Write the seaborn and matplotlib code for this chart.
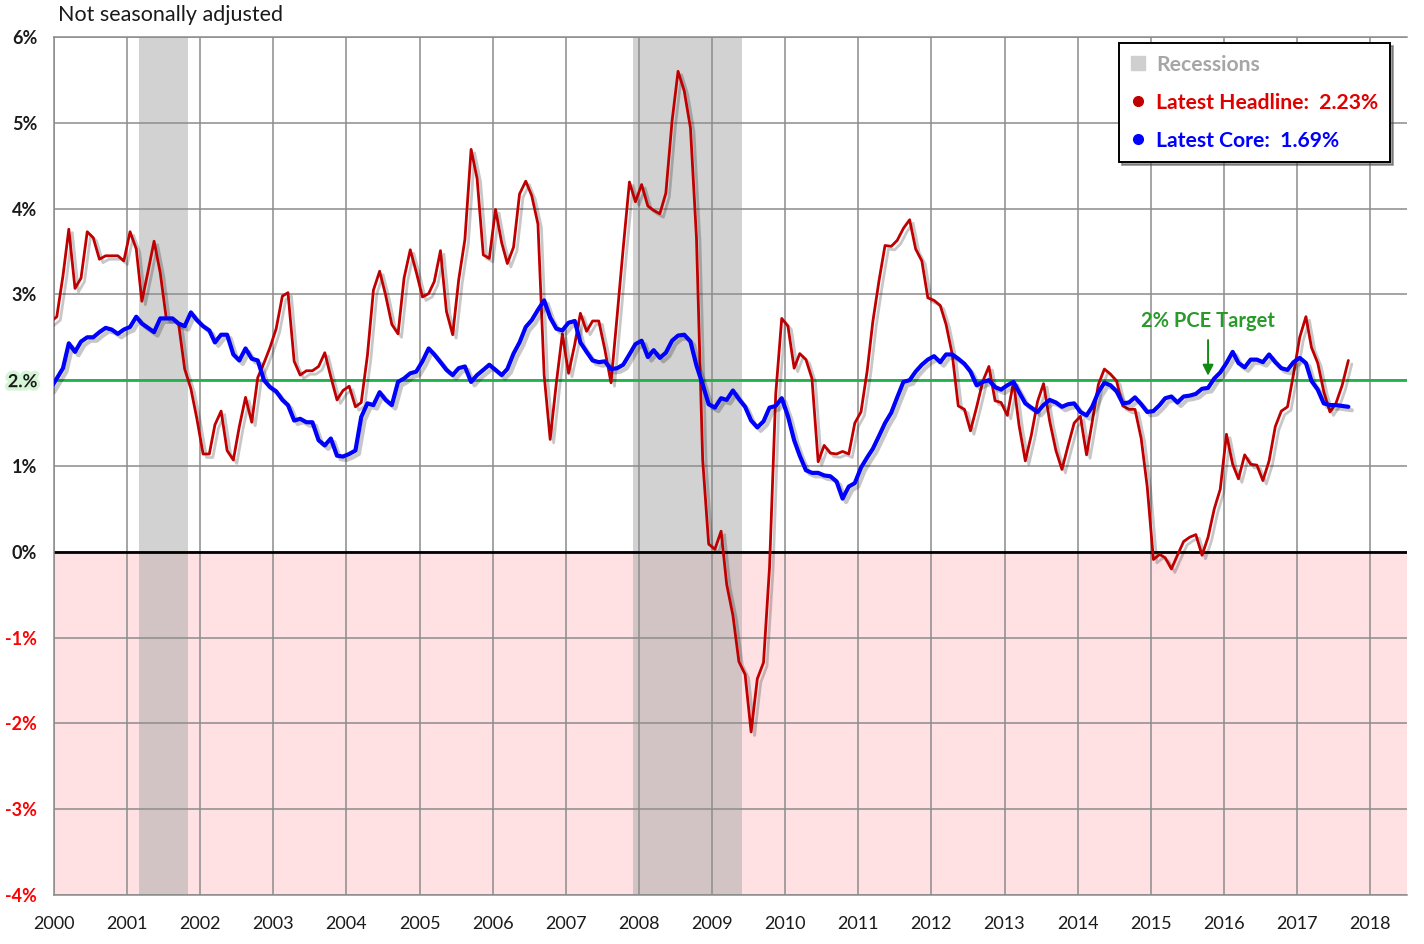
import pandas as pd
import matplotlib
matplotlib.use("Agg")
import matplotlib.pyplot as plt
import matplotlib.patheffects as pe
from matplotlib.lines import Line2D
import seaborn as sns

# ------------------------- data (YoY %, monthly, Dec 1999 .. Sep 2017) -------------------------

headline = [
    2.68,
    2.74, 3.22, 3.76, 3.07, 3.19, 3.73, 3.66, 3.41, 3.45, 3.45, 3.45, 3.39,   # 2000
    3.73, 3.53, 2.92, 3.27, 3.62, 3.25, 2.72, 2.72, 2.65, 2.13, 1.90, 1.55,   # 2001
    1.14, 1.14, 1.48, 1.64, 1.18, 1.07, 1.46, 1.80, 1.51, 2.03, 2.20, 2.38,   # 2002
    2.60, 2.98, 3.02, 2.22, 2.06, 2.11, 2.11, 2.16, 2.32, 2.04, 1.77, 1.88,   # 2003
    1.93, 1.69, 1.74, 2.29, 3.05, 3.27, 2.99, 2.65, 2.54, 3.19, 3.52, 3.26,   # 2004
    2.97, 3.01, 3.15, 3.51, 2.80, 2.53, 3.17, 3.64, 4.69, 4.35, 3.46, 3.42,   # 2005
    3.99, 3.60, 3.36, 3.55, 4.17, 4.32, 4.15, 3.82, 2.06, 1.31, 1.97, 2.54,   # 2006
    2.08, 2.42, 2.78, 2.57, 2.69, 2.69, 2.36, 1.97, 2.76, 3.54, 4.31, 4.08,   # 2007
    4.28, 4.03, 3.98, 3.94, 4.18, 5.02, 5.60, 5.37, 4.94, 3.66, 1.07, 0.09,   # 2008
    0.03, 0.24, -0.38, -0.74, -1.28, -1.43, -2.10, -1.48, -1.29, -0.18, 1.84, 2.72,  # 2009
    2.63, 2.14, 2.31, 2.24, 2.02, 1.05, 1.24, 1.15, 1.14, 1.17, 1.14, 1.50,   # 2010
    1.63, 2.11, 2.68, 3.16, 3.57, 3.56, 3.63, 3.77, 3.87, 3.53, 3.39, 2.96,   # 2011
    2.93, 2.87, 2.65, 2.30, 1.70, 1.66, 1.41, 1.69, 1.99, 2.16, 1.76, 1.74,   # 2012
    1.59, 1.98, 1.47, 1.06, 1.36, 1.75, 1.96, 1.52, 1.18, 0.96, 1.24, 1.50,   # 2013
    1.58, 1.13, 1.51, 1.95, 2.13, 2.07, 1.99, 1.70, 1.66, 1.66, 1.32, 0.76,   # 2014
    -0.09, -0.03, -0.07, -0.20, -0.04, 0.12, 0.17, 0.20, -0.04, 0.17, 0.50, 0.73,  # 2015
    1.37, 1.02, 0.85, 1.13, 1.02, 1.01, 0.83, 1.06, 1.46, 1.64, 1.69, 2.07,   # 2016
    2.50, 2.74, 2.38, 2.20, 1.87, 1.63, 1.73, 1.94, 2.23,                     # 2017
]

core = [
    1.90,
    2.02, 2.14, 2.43, 2.33, 2.45, 2.50, 2.50, 2.56, 2.61, 2.59, 2.54, 2.59,   # 2000
    2.62, 2.74, 2.66, 2.61, 2.56, 2.72, 2.72, 2.72, 2.66, 2.63, 2.79, 2.70,   # 2001
    2.63, 2.58, 2.44, 2.53, 2.53, 2.30, 2.23, 2.37, 2.25, 2.23, 2.00, 1.92,   # 2002
    1.87, 1.77, 1.71, 1.53, 1.55, 1.51, 1.51, 1.30, 1.24, 1.32, 1.12, 1.11,   # 2003
    1.14, 1.18, 1.57, 1.73, 1.71, 1.86, 1.77, 1.71, 1.98, 2.02, 2.08, 2.10,   # 2004
    2.22, 2.37, 2.30, 2.21, 2.12, 2.06, 2.14, 2.16, 1.98, 2.06, 2.12, 2.18,   # 2005
    2.12, 2.06, 2.13, 2.31, 2.44, 2.62, 2.70, 2.82, 2.93, 2.73, 2.60, 2.58,   # 2006
    2.67, 2.69, 2.44, 2.33, 2.23, 2.21, 2.22, 2.13, 2.14, 2.18, 2.30, 2.42,   # 2007
    2.46, 2.27, 2.35, 2.26, 2.32, 2.46, 2.52, 2.53, 2.45, 2.17, 1.95, 1.72,   # 2008
    1.68, 1.79, 1.77, 1.88, 1.78, 1.69, 1.53, 1.45, 1.52, 1.68, 1.70, 1.79,   # 2009
    1.58, 1.30, 1.12, 0.95, 0.92, 0.92, 0.89, 0.88, 0.82, 0.62, 0.76, 0.80,   # 2010
    0.98, 1.10, 1.20, 1.35, 1.50, 1.62, 1.80, 1.98, 2.00, 2.10, 2.18, 2.24,   # 2011
    2.28, 2.21, 2.30, 2.30, 2.25, 2.19, 2.10, 1.94, 1.98, 2.00, 1.92, 1.89,   # 2012
    1.94, 1.98, 1.86, 1.73, 1.68, 1.63, 1.71, 1.77, 1.74, 1.69, 1.72, 1.73,   # 2013
    1.63, 1.59, 1.69, 1.86, 1.97, 1.94, 1.87, 1.73, 1.74, 1.80, 1.72, 1.63,   # 2014
    1.64, 1.71, 1.79, 1.81, 1.74, 1.81, 1.82, 1.84, 1.90, 1.91, 2.02, 2.09,   # 2015
    2.20, 2.33, 2.20, 2.15, 2.24, 2.24, 2.21, 2.30, 2.21, 2.14, 2.12, 2.21,   # 2016
    2.26, 2.20, 1.99, 1.89, 1.73, 1.71, 1.71, 1.70, 1.69,                     # 2017
]

months = pd.date_range("1999-12-01", "2017-09-01", freq="MS") + pd.Timedelta(days=14)

recessions = [("2001-03-01", "2001-11-01"), ("2007-12-01", "2009-06-01")]

year_ticks = list(range(2000, 2019))
ytick_values = list(range(-4, 7))
ytick_labels = ["-4%", "-3%", "-2%", "-1%", "0%", "1%", "2.%", "3%", "4%", "5%", "6%"]

latest_headline = headline[-1]
latest_core = core[-1]

# ------------------------- style -------------------------

sns.set_style("white")
plt.rcParams["font.family"] = ["Lato", "DejaVu Sans"]

RED = "#c00000"
BLUE = "#0000ff"
GREEN = "#22b14c"
GRID = "#8c8c8c"

fig = plt.figure(figsize=(14.24, 9.44), dpi=100)
ax = fig.add_axes([54 / 1424, 1 - 895 / 944, 1353 / 1424, 858 / 944])

# background bands
ax.axhspan(-4, 0, color="#ffe1e4", zorder=0.1, lw=0)
for start, end in recessions:
    ax.axvspan(pd.Timestamp(start), pd.Timestamp(end), color="#aaaaaa", alpha=0.52, lw=0, zorder=0.2)

ax.axhline(0, color="black", lw=2.0, zorder=1.5)
ax.axhline(2, color=GREEN, lw=2.0, zorder=1.5)

shadow = [pe.SimpleLineShadow(offset=(2.5, -2.5), shadow_color="black", alpha=0.22), pe.Normal()]

sns.lineplot(x=months, y=headline, ax=ax, color=RED, linewidth=2.0,
             estimator=None, path_effects=shadow, zorder=3)
sns.lineplot(x=months, y=core, ax=ax, color=BLUE, linewidth=3.0,
             estimator=None, path_effects=shadow, zorder=4)

# axes
ax.set_xlim(pd.Timestamp("2000-01-01"), pd.Timestamp("2018-07-05"))
ax.set_ylim(-4, 6)
ax.set_xticks([pd.Timestamp(f"{y}-01-01") for y in year_ticks])
ax.set_xticklabels([str(y) for y in year_ticks], fontsize=13, color="#1a1a1a")
ax.set_yticks(ytick_values)
ax.set_yticklabels(ytick_labels, fontsize=13, fontweight="bold")
ax.set_xlabel("")
ax.set_ylabel("")
ax.tick_params(axis="both", length=0)
ax.tick_params(axis="y", pad=12)
ax.tick_params(axis="x", pad=15)

for val, lab in zip(ytick_values, ax.get_yticklabels()):
    lab.set_color("#ff0000" if val < 0 else "#1a1a1a")
    if val == 2:
        lab.set_path_effects([pe.withStroke(linewidth=5, foreground="#d6f5d6")])

ax.set_axisbelow(True)
ax.grid(True, color=GRID, lw=1.1)
for side in ["left", "top", "bottom"]:
    ax.spines[side].set_color(GRID)
    ax.spines[side].set_linewidth(1.1)
ax.spines["right"].set_visible(False)

# 2% target annotation
target_date = pd.Timestamp("2015-10-15")
ax.annotate("", xy=(target_date, 2.02), xytext=(target_date, 2.5),
            arrowprops=dict(arrowstyle="-|>", color="#108a10", lw=1.4, mutation_scale=16),
            zorder=5)
ax.text(target_date, 2.69, "2% PCE Target", color="#2a9a2a", fontsize=14.5, fontweight="bold",
        ha="center", va="center", zorder=5)

# legend
handles = [
    Line2D([], [], marker="s", color="#cfcfcf", linestyle="none", markersize=10),
    Line2D([], [], marker="o", color=RED, linestyle="none", markersize=7),
    Line2D([], [], marker="o", color=BLUE, linestyle="none", markersize=7),
]
labels = ["Recessions",
          f"Latest Headline:  {latest_headline:.2f}%",
          f"Latest Core:  {latest_core:.2f}%"]
leg = ax.legend(handles, labels, loc="upper right", bbox_to_anchor=(0.9874, 0.993),
                borderaxespad=0, frameon=True, fancybox=False, shadow=True,
                framealpha=1, edgecolor="black", prop={"size": 15.2, "weight": "bold"},
                handlelength=0.7, handletextpad=0.5, labelspacing=0.85,
                borderpad=0.55)
leg.get_frame().set_linewidth(1.4)
for txt, col in zip(leg.get_texts(), ["#a6a6a6", "#e00000", BLUE]):
    txt.set_color(col)
leg.set_zorder(10)

fig.text(58 / 1424, 1 - 15 / 944, "Not seasonally adjusted", fontsize=15.5,
         color="#1a1a1a", ha="left", va="center")

plt.savefig("out.png", dpi=100)
plt.close()
